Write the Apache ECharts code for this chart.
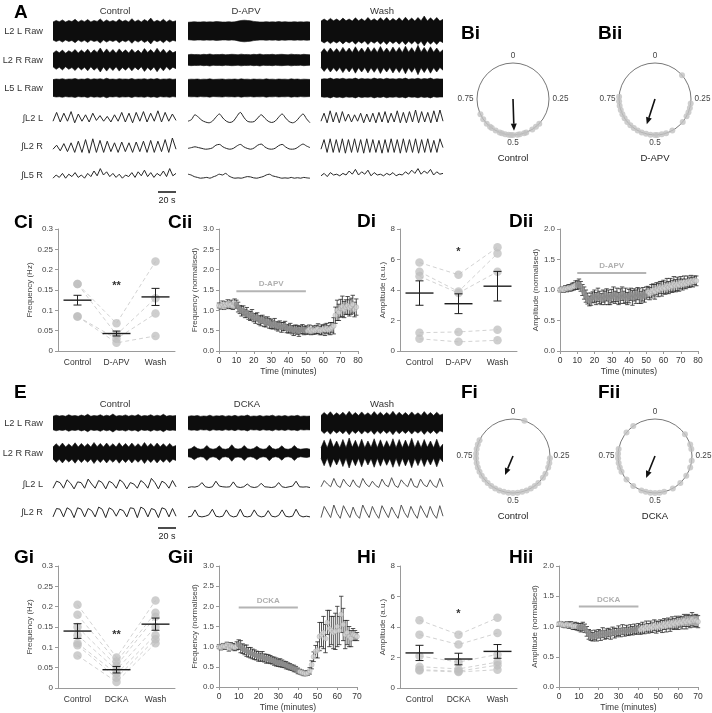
<!DOCTYPE html>
<html><head><meta charset="utf-8">
<script src="https://cdn.jsdelivr.net/npm/echarts@6/dist/echarts.min.js"></script>
<style>html,body{margin:0;padding:0;background:#fff}#c{width:712px;height:713px}</style>
</head><body><div id="c"></div><script>
// ---------------- DATA ----------------
// Panel A raw envelopes (half-amplitude, relative units)
const aL2LRawCtrl=[0.6,0.7,0.62,0.74,0.6,0.7,0.63,0.78,0.6,0.72,0.62,0.76,0.6,0.7,0.64,0.8,0.6,0.74,0.62,0.7,0.6,0.78,0.63,0.72,0.6,0.82,0.62,0.74,0.6,0.76,0.64,0.86,0.6,0.72,0.62,0.78,0.6,0.74,0.62,0.68];
const aL2LRawDapv=[0.58,0.6,0.62,0.6,0.6,0.62,0.6,0.61,0.6,0.63,0.62,0.6,0.6,0.62,0.6,0.61,0.66,0.7,0.72,0.7,0.68,0.64,0.62,0.6,0.6,0.62,0.6,0.61,0.6,0.63,0.6,0.62,0.6,0.6,0.62,0.6,0.61,0.6,0.62,0.6];
const aL2LRawWash=[0.66,0.8,0.66,0.84,0.68,0.8,0.66,0.86,0.68,0.8,0.66,0.88,0.68,0.82,0.66,0.9,0.68,0.82,0.66,0.88,0.68,0.9,0.66,0.84,0.68,0.88,0.66,0.92,0.68,0.86,0.66,0.9,0.68,1.0,0.66,0.88,0.68,0.9,0.66,0.78];
const aL2RRawCtrl=[0.45,0.62,0.48,0.66,0.45,0.62,0.5,0.7,0.46,0.66,0.48,0.72,0.45,0.68,0.5,0.8,0.46,0.74,0.48,0.7,0.45,0.74,0.5,0.68,0.46,0.72,0.48,0.66,0.45,0.76,0.5,0.7,0.46,0.78,0.48,0.72,0.45,0.66,0.48,0.58];
const aL2RRawDapv=[0.35,0.38,0.36,0.37,0.35,0.38,0.36,0.4,0.35,0.37,0.36,0.38,0.35,0.36,0.38,0.37,0.35,0.39,0.36,0.37,0.35,0.38,0.36,0.4,0.35,0.37,0.36,0.38,0.35,0.37,0.38,0.36,0.35,0.39,0.36,0.37,0.35,0.38,0.36,0.35];
const aL2RRawWash=[0.5,0.76,0.5,0.8,0.52,0.76,0.5,0.84,0.52,0.8,0.5,0.88,0.52,0.8,0.5,0.86,0.52,0.82,0.5,0.9,0.52,0.8,0.5,0.86,0.52,0.84,0.5,0.92,0.52,0.82,0.5,0.98,0.52,0.84,0.5,0.88,0.52,0.8,0.5,0.68];
const aL5LRawCtrl=[0.56,0.6,0.58,0.62,0.57,0.6,0.59,0.63,0.57,0.6,0.58,0.64,0.57,0.61,0.59,0.62,0.57,0.65,0.58,0.6,0.57,0.62,0.59,0.6,0.58,0.63,0.57,0.6,0.59,0.62,0.57,0.61,0.58,0.63,0.57,0.6,0.59,0.62,0.57,0.6];
const aL5LRawDapv=[0.57,0.59,0.58,0.6,0.57,0.59,0.58,0.61,0.57,0.58,0.59,0.6,0.57,0.59,0.58,0.6,0.57,0.61,0.58,0.59,0.57,0.6,0.58,0.59,0.57,0.61,0.58,0.59,0.57,0.6,0.58,0.59,0.57,0.61,0.58,0.6,0.57,0.59,0.58,0.57];
const aL5LRawWash=[0.58,0.62,0.6,0.66,0.58,0.63,0.6,0.65,0.59,0.62,0.6,0.66,0.58,0.64,0.6,0.62,0.59,0.66,0.6,0.63,0.58,0.65,0.6,0.62,0.59,0.64,0.6,0.66,0.58,0.62,0.6,0.65,0.59,0.63,0.6,0.66,0.58,0.62,0.6,0.6];
// Panel A integrated traces (0..1)
const aIntL2LCtrl=[0.3,0.85,0.25,0.8,0.3,0.9,0.2,0.75,0.3,0.7,0.25,0.8,0.35,0.65,0.3,0.6,0.25,0.7,0.3,0.85,0.25,0.8,0.2,0.85,0.3,0.9,0.25,0.8,0.3,0.95,0.25,0.85,0.3,0.75,0.35];
const aIntL2RCtrl=[0.3,0.55,0.2,0.65,0.15,0.7,0.1,0.8,0.1,0.9,0.05,0.95,0.1,0.85,0.1,0.8,0.15,0.7,0.1,0.75,0.15,0.7,0.1,0.75,0.15,0.8,0.1,0.85,0.1,0.8,0.15,0.9,0.1,1.0,0.3];
const aIntL5RCtrl=[0.3,0.5,0.35,0.6,0.3,0.55,0.4,0.65,0.35,0.5,0.3,0.6,0.4,0.75,0.45,0.9,0.5,0.7,0.4,0.6,0.35,0.55,0.3,0.5,0.4,0.65,0.35,0.7,0.45,0.8,0.4,0.65,0.35,0.6,0.45,0.75,0.4,0.9,0.45,0.6];
const aIntL2LDapv=[0.3,0.4,0.7,0.55,0.35,0.25,0.2,0.3,0.55,0.75,0.5,0.3,0.22,0.3,0.6,0.85,0.55,0.3,0.25,0.28,0.5,0.7,0.5,0.3,0.22,0.3,0.55,0.75,0.5,0.28,0.2,0.3,0.55,0.75,0.45,0.2];
const aIntL2RDapv=[0.35,0.4,0.45,0.4,0.35,0.3,0.32,0.38,0.55,0.6,0.45,0.35,0.3,0.35,0.5,0.6,0.45,0.35,0.3,0.38,0.55,0.62,0.45,0.33,0.3,0.36,0.52,0.6,0.44,0.32,0.3,0.35,0.5,0.62,0.5,0.4];
const aIntL5RDapv=[0.55,0.5,0.4,0.35,0.3,0.32,0.35,0.3,0.38,0.45,0.55,0.5,0.6,0.45,0.35,0.3,0.32,0.3,0.35,0.4,0.38,0.32,0.3,0.35,0.4,0.5,0.55,0.45,0.4,0.35,0.3,0.32,0.3,0.35,0.3,0.33,0.3,0.35,0.32,0.3];
const aIntL2LWash=[0.3,0.8,0.2,0.95,0.25,0.85,0.2,0.9,0.3,0.75,0.25,0.7,0.3,0.8,0.2,0.75,0.25,0.8,0.2,0.85,0.25,0.9,0.2,0.8,0.25,0.95,0.2,0.85,0.2,0.9,0.25,1.0,0.2,0.9,0.25,0.85,0.2,0.95,0.25,1.0,0.3];
const aIntL2RWash=[0.3,0.9,0.1,0.95,0.1,0.9,0.1,0.95,0.05,0.9,0.1,0.95,0.1,0.9,0.05,0.95,0.1,0.9,0.1,0.85,0.05,0.9,0.1,0.95,0.1,0.9,0.05,0.95,0.1,0.9,0.1,0.95,0.05,0.9,0.1,0.95,0.1,0.85,0.1,0.95,0.4];
const aIntL5RWash=[0.45,0.6,0.4,0.65,0.5,0.55,0.45,0.6,0.5,0.75,0.55,0.85,0.5,0.7,0.55,0.8,0.45,0.65,0.5,0.55,0.45,0.6,0.5,0.65,0.45,0.55,0.5,0.7,0.55,0.8,0.6,0.9,0.55,0.75,0.6,0.85,0.5,0.7,0.55,0.6];
// Panel E
const eL2LRawCtrl=[0.45,0.52,0.46,0.5,0.45,0.55,0.47,0.5,0.45,0.53,0.46,0.58,0.45,0.5,0.47,0.55,0.45,0.52,0.46,0.6,0.45,0.5,0.47,0.54,0.45,0.52,0.46,0.56,0.45,0.5,0.47,0.55,0.45,0.52,0.46,0.58,0.45,0.5,0.47,0.5];
const eL2LRawDcka=[0.44,0.48,0.46,0.5,0.44,0.47,0.45,0.52,0.44,0.48,0.46,0.5,0.44,0.49,0.45,0.51,0.44,0.48,0.46,0.53,0.44,0.47,0.45,0.5,0.44,0.48,0.46,0.52,0.44,0.49,0.45,0.5,0.44,0.48,0.46,0.51,0.44,0.47,0.45,0.46];
const eL2LRawWash=[0.5,0.7,0.52,0.75,0.5,0.68,0.52,0.72,0.5,0.78,0.52,0.7,0.5,0.74,0.52,0.68,0.5,0.76,0.52,0.72,0.5,0.7,0.52,0.78,0.5,0.72,0.52,0.7,0.5,0.74,0.52,0.68,0.5,0.76,0.52,0.7,0.5,0.72,0.52,0.6];
const eL2RRawCtrl=[0.4,0.62,0.42,0.66,0.4,0.6,0.42,0.68,0.4,0.64,0.42,0.62,0.4,0.7,0.42,0.64,0.4,0.66,0.42,0.62,0.4,0.68,0.42,0.64,0.4,0.66,0.42,0.62,0.4,0.7,0.42,0.64,0.4,0.66,0.42,0.62,0.4,0.64,0.42,0.5];
const eL2RRawDcka=[0.25,0.3,0.45,0.3,0.25,0.28,0.5,0.3,0.25,0.3,0.48,0.28,0.25,0.3,0.55,0.3,0.26,0.3,0.5,0.28,0.25,0.3,0.45,0.3,0.25,0.28,0.52,0.3,0.25,0.3,0.48,0.28,0.25,0.3,0.5,0.3,0.25,0.28,0.3,0.25];
const eL2RRawWash=[0.35,0.85,0.35,0.95,0.38,0.8,0.35,0.9,0.35,1.0,0.38,0.85,0.35,0.92,0.35,0.8,0.38,0.95,0.35,0.88,0.35,0.82,0.38,0.95,0.35,0.9,0.35,0.86,0.38,0.98,0.35,0.84,0.35,0.9,0.38,0.8,0.35,0.92,0.35,0.6];
const eIntL2LCtrl=[0.2,0.7,0.6,0.2,0.8,0.55,0.15,0.65,0.6,0.2,0.85,0.5,0.2,0.75,0.6,0.15,0.7,0.55,0.2,0.8,0.6,0.15,0.6,0.5,0.2,0.75,0.55,0.2,0.9,0.6,0.15,0.7,0.55,0.2,0.75,0.3];
const eIntL2RCtrl=[0.15,0.75,0.7,0.15,0.8,0.65,0.1,0.8,0.7,0.15,0.75,0.6,0.15,0.85,0.7,0.1,0.8,0.65,0.2,0.7,0.6,0.15,0.8,0.75,0.1,0.85,0.7,0.15,0.75,0.65,0.1,0.8,0.7,0.15,0.75,0.2];
const eIntL2LDcka=[0.25,0.3,0.28,0.35,0.6,0.3,0.25,0.3,0.7,0.35,0.3,0.28,0.3,0.65,0.3,0.25,0.3,0.5,0.3,0.25,0.3,0.55,0.3,0.28,0.25,0.3,0.6,0.3,0.25,0.3,0.35,0.7,0.3,0.28,0.3,0.25];
const eIntL2RDcka=[0.15,0.2,0.65,0.2,0.15,0.2,0.3,0.7,0.2,0.15,0.2,0.65,0.25,0.15,0.2,0.7,0.2,0.15,0.2,0.65,0.25,0.15,0.2,0.6,0.2,0.15,0.25,0.65,0.2,0.15,0.2,0.7,0.25,0.15,0.2,0.15];
const eIntL2LWash=[0.3,0.75,0.5,0.3,0.9,0.4,0.25,0.85,0.5,0.3,0.8,0.4,0.25,0.9,0.5,0.3,0.7,0.4,0.25,0.85,0.45,0.3,0.95,0.4,0.25,0.8,0.5,0.3,0.9,0.35,0.25,0.85,0.45,0.3,0.8,0.4,0.25,0.9,0.3];
const eIntL2RWash=[0.1,0.9,0.5,0.1,1.0,0.4,0.05,0.95,0.5,0.1,0.85,0.3,0.05,1.0,0.5,0.1,0.9,0.4,0.05,0.95,0.5,0.1,0.85,0.4,0.05,1.0,0.45,0.1,0.9,0.4,0.05,0.95,0.5,0.1,0.9,0.35,0.05,0.95,0.2];

// Circular phase data
const biPhases=[0.37,0.39,0.41,0.44,0.45,0.47,0.48,0.5,0.51,0.52,0.535,0.55,0.56,0.58,0.6,0.61,0.63,0.655,0.68];
const biiPhases=[0.135,0.27,0.29,0.31,0.33,0.36,0.42,0.45,0.47,0.49,0.5,0.52,0.54,0.56,0.58,0.6,0.62,0.64,0.66,0.68,0.7,0.72,0.74,0.76];
const fiPhases=[0.05,0.26,0.28,0.3,0.33,0.35,0.38,0.4,0.42,0.44,0.46,0.48,0.5,0.52,0.54,0.56,0.58,0.6,0.62,0.64,0.66,0.68,0.7,0.72,0.74,0.76,0.78,0.8,0.82];
const fiiPhases=[0.15,0.2,0.22,0.27,0.3,0.34,0.38,0.42,0.46,0.48,0.5,0.52,0.54,0.56,0.6,0.64,0.68,0.7,0.72,0.74,0.76,0.78,0.86,0.9];
const biArrow=[0.495,0.88], biiArrow=[0.55,0.74], fiArrow=[0.563,0.56], fiiArrow=[0.561,0.64]; // [phase, length]
const circleTicks=[0,0.25,0.5,0.75];

// Paired data
const cCats=['Control','D-APV','Wash'];
const gCats=['Control','DCKA','Wash'];
const ciSubjects=[[0.165,0.068,0.22],[0.165,0.04,0.13],[0.085,0.03,0.092],[0.085,0.02,0.037]];
const ciMean=[0.125,0.043,0.133], ciSem=[0.012,0.006,0.021];
const diSubjects=[[5.8,5.0,6.8],[5.2,3.9,6.4],[4.9,3.8,5.2],[1.2,1.25,1.4],[0.8,0.6,0.7]];
const diMean=[3.8,3.1,4.25], diSem=[0.8,0.65,0.97];
const giSubjects=[[0.205,0.075,0.215],[0.18,0.065,0.185],[0.15,0.055,0.175],[0.13,0.045,0.15],[0.11,0.035,0.13],[0.105,0.025,0.12],[0.08,0.015,0.11]];
const giMean=[0.14,0.045,0.157], giSem=[0.018,0.008,0.015];
const hiSubjects=[[4.45,3.5,4.6],[3.5,2.85,3.6],[2.1,1.7,2.2],[1.4,1.25,1.7],[1.2,1.1,1.5],[1.15,1.05,1.2]];
const hiMean=[2.3,1.9,2.4], hiSem=[0.5,0.38,0.45];

// Time courses (one value per minute from 0)
const ciiValues=[1.12,1.10,1.15,1.08,1.13,1.17,1.12,1.15,1.10,1.18,1.15,1.08,1.02,0.98,1.0,0.92,0.95,0.88,0.86,0.9,0.82,0.8,0.84,0.76,0.74,0.78,0.72,0.7,0.74,0.68,0.66,0.64,0.68,0.62,0.6,0.64,0.58,0.6,0.62,0.55,0.54,0.57,0.52,0.5,0.54,0.52,0.48,0.52,0.54,0.5,0.52,0.5,0.54,0.48,0.52,0.5,0.53,0.55,0.5,0.52,0.54,0.52,0.56,0.52,0.55,0.58,0.62,0.88,1.0,0.95,1.05,1.1,1.02,1.08,1.12,1.06,1.1,1.15,1.02,1.08];
const ciiErr=[0.06,0.07,0.08,0.06,0.08,0.09,0.08,0.1,0.08,0.1,0.1,0.12,0.1,0.12,0.11,0.1,0.12,0.1,0.11,0.12,0.1,0.12,0.1,0.11,0.12,0.1,0.12,0.11,0.1,0.12,0.11,0.1,0.12,0.1,0.11,0.1,0.12,0.1,0.11,0.1,0.1,0.11,0.1,0.12,0.1,0.11,0.12,0.1,0.11,0.1,0.1,0.09,0.1,0.08,0.1,0.09,0.1,0.12,0.1,0.12,0.1,0.14,0.12,0.1,0.15,0.12,0.2,0.2,0.25,0.2,0.22,0.25,0.2,0.18,0.22,0.2,0.2,0.22,0.18,0.2];
const diiValues=[1.0,1.02,1.0,1.03,1.02,1.04,1.03,1.05,1.06,1.08,1.08,1.1,1.06,1.0,0.95,0.9,0.86,0.82,0.85,0.88,0.9,0.86,0.92,0.88,0.85,0.9,0.87,0.92,0.88,0.86,0.9,0.93,0.88,0.92,0.86,0.9,0.94,0.88,0.91,0.86,0.9,0.93,0.87,0.92,0.89,0.94,0.9,0.88,0.93,0.9,0.95,0.97,0.94,0.98,1.0,0.97,1.02,1.0,1.04,1.02,1.05,1.03,1.07,1.04,1.08,1.06,1.1,1.07,1.1,1.08,1.12,1.09,1.13,1.1,1.14,1.12,1.15,1.13,1.16,1.15];
const diiErr=[0.03,0.03,0.04,0.04,0.05,0.05,0.05,0.06,0.06,0.07,0.07,0.08,0.08,0.09,0.1,0.1,0.09,0.08,0.1,0.09,0.1,0.1,0.11,0.1,0.09,0.1,0.11,0.1,0.12,0.1,0.11,0.12,0.1,0.11,0.1,0.12,0.11,0.1,0.12,0.1,0.11,0.1,0.12,0.1,0.11,0.1,0.12,0.1,0.11,0.1,0.1,0.09,0.1,0.11,0.1,0.12,0.1,0.11,0.1,0.12,0.11,0.1,0.12,0.1,0.11,0.1,0.12,0.1,0.11,0.1,0.1,0.09,0.1,0.08,0.09,0.08,0.09,0.08,0.07,0.08];
const giiValues=[1.0,0.98,1.02,1.0,1.05,0.97,1.03,1.0,0.98,1.02,1.05,1.0,0.95,0.92,0.9,0.86,0.85,0.82,0.8,0.78,0.76,0.74,0.76,0.72,0.7,0.7,0.68,0.66,0.64,0.62,0.6,0.6,0.58,0.56,0.54,0.52,0.5,0.48,0.46,0.44,0.4,0.38,0.36,0.34,0.33,0.35,0.4,0.55,0.75,0.88,0.92,1.25,1.3,1.35,1.2,1.6,1.45,1.4,1.35,1.38,1.5,1.4,1.8,1.55,1.3,1.35,1.25,1.2,1.3,1.28,1.25];
const giiErr=[0.05,0.06,0.06,0.07,0.06,0.08,0.07,0.08,0.08,0.1,0.12,0.15,0.12,0.12,0.14,0.12,0.13,0.12,0.12,0.11,0.12,0.1,0.12,0.1,0.11,0.1,0.1,0.09,0.1,0.1,0.09,0.1,0.09,0.08,0.09,0.08,0.08,0.07,0.08,0.07,0.07,0.06,0.06,0.06,0.05,0.06,0.08,0.1,0.12,0.15,0.2,0.35,0.3,0.4,0.35,0.3,0.45,0.35,0.4,0.45,0.5,0.35,0.45,0.4,0.35,0.3,0.25,0.2,0.15,0.12,0.1];
const hiiValues=[1.04,1.05,1.03,1.02,1.04,1.02,1.03,1.0,1.01,1.0,0.99,0.98,1.0,0.97,0.92,0.87,0.85,0.83,0.86,0.84,0.88,0.85,0.9,0.86,0.88,0.9,0.87,0.92,0.89,0.9,0.93,0.9,0.95,0.91,0.94,0.92,0.95,0.93,0.96,0.94,0.97,0.95,0.98,0.96,1.0,0.97,1.0,0.98,1.02,0.99,1.0,1.02,1.0,1.04,1.01,1.05,1.02,1.06,1.04,1.07,1.05,1.08,1.06,1.1,1.07,1.1,1.08,1.12,1.09,1.1,1.08];
const hiiErr=[0.03,0.03,0.04,0.04,0.04,0.05,0.05,0.05,0.06,0.06,0.06,0.07,0.07,0.07,0.08,0.08,0.08,0.07,0.08,0.08,0.07,0.08,0.08,0.07,0.08,0.07,0.08,0.07,0.08,0.07,0.08,0.07,0.08,0.07,0.08,0.07,0.08,0.07,0.08,0.07,0.08,0.08,0.09,0.08,0.09,0.08,0.09,0.08,0.09,0.1,0.08,0.09,0.1,0.09,0.1,0.09,0.1,0.1,0.09,0.1,0.1,0.09,0.1,0.1,0.11,0.1,0.1,0.11,0.1,0.1,0.1];
const dapvPeriod=[10,50], dckaPeriod=[10,40];

// ---------------- BUILD ----------------
const FONT='"Liberation Sans", Arial, sans-serif';
const grids=[],xAxes=[],yAxes=[],series=[],polars=[],angleAxes=[],radiusAxes=[],graphics=[];
function addGrid(g,xa,ya){grids.push(g);const i=grids.length-1;xAxes.push(Object.assign({gridIndex:i},xa));yAxes.push(Object.assign({gridIndex:i},ya));return i;}
function hidden(min,max){return {type:'value',min,max,show:false,splitLine:{show:false}};}
function rawTrace(left,width,cy,half,amps){
  const gi=addGrid({left,top:cy-half,width,height:2*half},hidden(0,amps.length-1),hidden(-1,1));
  [1,-1].forEach(sg=>series.push({type:'line',xAxisIndex:gi,yAxisIndex:gi,silent:true,symbol:'none',
    data:amps.map((a,i)=>[i,sg*a]),lineStyle:{width:0.6,color:'#0d0d0d'},areaStyle:{color:'#0d0d0d',opacity:1}}));
}
function intTrace(left,width,cy,half,vals,color,smooth){
  const gi=addGrid({left,top:cy-half,width,height:2*half},hidden(0,vals.length-1),hidden(0,1));
  series.push({type:'line',xAxisIndex:gi,yAxisIndex:gi,silent:true,symbol:'none',smooth:smooth||false,
    data:vals.map((v,i)=>[i,v]),lineStyle:{width:1,color:color||'#222'}});
}
const axisGray='#9a9a9a';
function yAxisCfg(max,interval,fmt,name,gap){
  return {type:'value',min:0,max,interval,splitLine:{show:false},
    axisLine:{show:true,lineStyle:{color:axisGray,width:1}},axisTick:{show:true,length:3,lineStyle:{color:axisGray}},
    axisLabel:{formatter:fmt,color:'#444',fontSize:8,margin:5,fontFamily:FONT},
    name,nameLocation:'middle',nameGap:gap,nameTextStyle:{fontSize:8,color:'#444',fontFamily:FONT}};
}
function meanRender(params,api){
  const i=api.value(0),m=api.value(1),s=api.value(2);
  const c=api.coord([i,m]),t=api.coord([i,m+s]),b=api.coord([i,m-s]);
  const st={stroke:'#1e1e1e',lineWidth:1};
  return {type:'group',children:[
    {type:'line',shape:{x1:c[0]-14,y1:c[1],x2:c[0]+14,y2:c[1]},style:{stroke:'#1e1e1e',lineWidth:1.4}},
    {type:'line',shape:{x1:t[0],y1:t[1],x2:b[0],y2:b[1]},style:st},
    {type:'line',shape:{x1:t[0]-4,y1:t[1],x2:t[0]+4,y2:t[1]},style:st},
    {type:'line',shape:{x1:b[0]-4,y1:b[1],x2:b[0]+4,y2:b[1]},style:st}]};
}
function textRender(txt,dy,style){
  return function(params,api){const p=api.coord([api.value(0),api.value(1)]);
    return {type:'text',x:p[0],y:p[1]+(dy||0),style:Object.assign({text:txt,textAlign:'center',textVerticalAlign:'middle',fill:'#333',font:'bold 10px '+FONT},style||{})};};
}
function catChart(left,top,cats,ymax,yint,fmt,yname,gap,subjects,mean,sem,sig,sigY){
  const gi=addGrid({left,top,width:117,height:122},
    {type:'category',data:cats,axisLine:{lineStyle:{color:axisGray}},axisTick:{show:false},
     axisLabel:{color:'#333',fontSize:8.5,margin:7,fontFamily:FONT}},
    yAxisCfg(ymax,yint,fmt,yname,gap));
  subjects.forEach(s=>series.push({type:'line',xAxisIndex:gi,yAxisIndex:gi,silent:true,symbol:'none',data:s,
    lineStyle:{type:[4,3],width:0.9,color:'#cdcdcd'},z:2}));
  series.push({type:'scatter',xAxisIndex:gi,yAxisIndex:gi,silent:true,symbolSize:8.5,
    data:subjects.flatMap(s=>s.map((v,i)=>[i,v])),itemStyle:{color:'#bdbdbd',opacity:0.75},z:3});
  series.push({type:'custom',xAxisIndex:gi,yAxisIndex:gi,silent:true,renderItem:meanRender,
    data:mean.map((m,i)=>[i,m,sem[i]]),z:5});
  series.push({type:'custom',xAxisIndex:gi,yAxisIndex:gi,silent:true,renderItem:textRender(sig,0,{font:'bold 11px '+FONT}),data:[[1,sigY]],z:5});
}
function errRender(params,api){
  const x=api.value(0),y=api.value(1),e=api.value(2);
  const t=api.coord([x,y+e]),b=api.coord([x,y-e]);const w=2.2;const st={stroke:'#2a2a2a',lineWidth:0.8};
  return {type:'group',children:[
    {type:'line',shape:{x1:t[0],y1:t[1],x2:b[0],y2:b[1]},style:st},
    {type:'line',shape:{x1:t[0]-w,y1:t[1],x2:t[0]+w,y2:t[1]},style:st},
    {type:'line',shape:{x1:b[0]-w,y1:b[1],x2:b[0]+w,y2:b[1]},style:st}]};
}
function timeChart(left,top,width,xmax,ymax,yint,yname,gap,vals,errs,period,drugY,drugName){
  const gi=addGrid({left,top,width,height:122},
    {type:'value',min:0,max:xmax,interval:10,splitLine:{show:false},
     axisLine:{lineStyle:{color:axisGray}},axisTick:{show:true,length:3,lineStyle:{color:axisGray}},
     axisLabel:{color:'#333',fontSize:8.5,margin:5,fontFamily:FONT},
     name:'Time (minutes)',nameLocation:'middle',nameGap:16,nameTextStyle:{fontSize:8.5,color:'#333',fontFamily:FONT}},
    yAxisCfg(ymax,yint,v=>v.toFixed(1),yname,gap));
  series.push({type:'custom',xAxisIndex:gi,yAxisIndex:gi,silent:true,renderItem:errRender,data:vals.map((v,i)=>[i,v,errs[i]]),z:3});
  series.push({type:'scatter',xAxisIndex:gi,yAxisIndex:gi,silent:true,symbolSize:5,
    data:vals.map((v,i)=>[i,v]),itemStyle:{color:p=>(p.value[0]>=period[0]&&p.value[0]<=period[1])?'#8f8f8f':'#d2d2d2',borderColor:'#777',borderWidth:0.3},z:4});
  series.push({type:'line',xAxisIndex:gi,yAxisIndex:gi,silent:true,symbol:'none',data:[[period[0],drugY],[period[1],drugY]],
    lineStyle:{color:'#b4b4b4',width:2},z:2});
  series.push({type:'custom',xAxisIndex:gi,yAxisIndex:gi,silent:true,renderItem:textRender(drugName,-7,{fill:'#b0b0b0',font:'bold 8px '+FONT}),
    data:[[(period[0]+period[1])/2,drugY]],z:2});
}
function arrowRender(params,api){
  const len=api.value(0),ph=api.value(1);
  const s=api.coord([0,ph]),e=api.coord([len,ph]);
  const dx=e[0]-s[0],dy=e[1]-s[1],L=Math.hypot(dx,dy),ux=dx/L,uy=dy/L,hl=7,hw=3;
  const bx=e[0]-ux*hl,by=e[1]-uy*hl;
  return {type:'group',children:[
    {type:'line',shape:{x1:s[0],y1:s[1],x2:bx,y2:by},style:{stroke:'#111',lineWidth:1.6}},
    {type:'polygon',shape:{points:[[e[0],e[1]],[bx-uy*hw,by+ux*hw],[bx+uy*hw,by-ux*hw]]},style:{fill:'#111'}}]};
}
function circle(cx,cy,r,phases,arrow,caption){
  polars.push({center:[cx,cy],radius:r});const pi=polars.length-1;
  angleAxes.push({polarIndex:pi,type:'value',min:0,max:1,interval:0.25,startAngle:90,clockwise:true,
    axisLine:{lineStyle:{color:'#555',width:0.8}},axisTick:{show:false},splitLine:{show:false},
    axisLabel:{formatter:v=>circleTicks.indexOf(v)>=0?String(v):'',color:'#444',fontSize:8.2,margin:3.5,fontFamily:FONT}});
  radiusAxes.push({polarIndex:pi,type:'value',min:0,max:1,axisLine:{show:false},axisTick:{show:false},axisLabel:{show:false},splitLine:{show:false}});
  series.push({type:'scatter',coordinateSystem:'polar',polarIndex:pi,silent:true,symbolSize:6,
    data:phases.map(p=>[1,p]),itemStyle:{color:'#c2c2c2'},z:3});
  series.push({type:'custom',coordinateSystem:'polar',polarIndex:pi,silent:true,renderItem:arrowRender,data:[[arrow[1],arrow[0]]],z:5});
  txt(caption,cx,cy+r+23,'center',9.5);
}
function txt(t,x,y,align,size,bold,color){
  graphics.push({type:'text',x,y,silent:true,style:{text:t,textAlign:align||'left',textVerticalAlign:'middle',
    font:(bold?'bold ':'')+size+'px '+FONT,fill:color||'#222'}});
}
function scaleBar(x1,x2,y){
  graphics.push({type:'line',silent:true,shape:{x1,y1:y,x2,y2:y},style:{stroke:'#111',lineWidth:1.5}});
  txt('20 s',(x1+x2)/2,y+9,'center',9);
}

// Panel A
const colL=[53,188,321],colW=[123,122,122];
const aRowLabels=['L2 L Raw','L2 R Raw','L5 L Raw','∫L2 L','∫L2 R','∫L5 R'];
const aRowY=[31,60,88,118,146,175];
const aRaw=[[aL2LRawCtrl,aL2LRawDapv,aL2LRawWash],[aL2RRawCtrl,aL2RRawDapv,aL2RRawWash],[aL5LRawCtrl,aL5LRawDapv,aL5LRawWash]];
const aInt=[[aIntL2LCtrl,aIntL2LDapv,aIntL2LWash],[aIntL2RCtrl,aIntL2RDapv,aIntL2RWash],[aIntL5RCtrl,aIntL5RDapv,aIntL5RWash]];
aRaw.forEach((row,r)=>row.forEach((d,c)=>rawTrace(colL[c],colW[c],aRowY[r],15,d)));
aInt.forEach((row,r)=>row.forEach((d,c)=>intTrace(colL[c],colW[c],aRowY[r+3],8,d,'#262626',c===1?0.3:false)));
aRowLabels.forEach((l,i)=>txt(l,43,aRowY[i],'right',9.2,false,'#333'));
txt('A',14,13,'left',19,true,'#000');
['Control','D-APV','Wash'].forEach((h,i)=>txt(h,[115,246,382][i],11,'center',9.5,false,'#333'));
scaleBar(158,176,192);

// Panel E
const eRowLabels=['L2 L Raw','L2 R Raw','∫L2 L','∫L2 R'];
const eRowY=[423,453,484,512];
const eRaw=[[eL2LRawCtrl,eL2LRawDcka,eL2LRawWash],[eL2RRawCtrl,eL2RRawDcka,eL2RRawWash]];
const eInt=[[eIntL2LCtrl,eIntL2LDcka,eIntL2LWash],[eIntL2RCtrl,eIntL2RDcka,eIntL2RWash]];
eRaw.forEach((row,r)=>row.forEach((d,c)=>rawTrace(colL[c],colW[c],eRowY[r],15,d)));
eInt.forEach((row,r)=>row.forEach((d,c)=>intTrace(colL[c],colW[c],eRowY[r+2],7,d,c===2?'#555':'#262626',false)));
eRowLabels.forEach((l,i)=>txt(l,43,eRowY[i],'right',9.2,false,'#333'));
txt('E',14,393,'left',19,true,'#000');
['Control','DCKA','Wash'].forEach((h,i)=>txt(h,[115,247,382][i],404,'center',9.5,false,'#333'));
scaleBar(158,176,528);

// Circles
txt('Bi',461,34,'left',19,true,'#000');txt('Bii',598,34,'left',19,true,'#000');
circle(513,99,36,biPhases,biArrow,'Control');
circle(655,99,36,biiPhases,biiArrow,'D-APV');
txt('Fi',461,393,'left',19,true,'#000');txt('Fii',598,393,'left',19,true,'#000');
circle(513,456,37,fiPhases,fiArrow,'Control');
circle(655,456,37,fiiPhases,fiiArrow,'DCKA');

// Stats charts
txt('Ci',14,223,'left',19,true,'#000');txt('Cii',168,223,'left',19,true,'#000');
txt('Di',357,222,'left',19,true,'#000');txt('Dii',509,222,'left',19,true,'#000');
txt('Gi',14,558,'left',19,true,'#000');txt('Gii',168,558,'left',19,true,'#000');
txt('Hi',357,558,'left',19,true,'#000');txt('Hii',509,558,'left',19,true,'#000');
const f2=v=>String(+v.toFixed(2));
catChart(58,229,cCats,0.3,0.05,f2,'Frequency (Hz)',24,ciSubjects,ciMean,ciSem,'**',0.16);
timeChart(219,229,139,80,3,0.5,'Frequency (normalised)',19,ciiValues,ciiErr,dapvPeriod,1.47,'D-APV');
catChart(400,229,cCats,8,2,v=>String(v),'Amplitude (a.u.)',13,diSubjects,diMean,diSem,'*',6.5);
timeChart(560,229,138,80,2,0.5,'Amplitude (normalised)',19,diiValues,diiErr,dapvPeriod,1.28,'D-APV');
catChart(58,566,gCats,0.3,0.05,f2,'Frequency (Hz)',24,giSubjects,giMean,giSem,'**',0.13);
timeChart(219,566,138,70,3,0.5,'Frequency (normalised)',19,giiValues,giiErr,dckaPeriod,1.97,'DCKA');
catChart(400,566,gCats,8,2,v=>String(v),'Amplitude (a.u.)',13,hiSubjects,hiMean,hiSem,'*',4.85);
timeChart(559,566,139,70,2,0.5,'Amplitude (normalised)',19,hiiValues,hiiErr,dckaPeriod,1.33,'DCKA');

const chart=echarts.init(document.getElementById('c'),null,{renderer:'canvas'});
chart.setOption({animation:false,backgroundColor:'#fff',textStyle:{fontFamily:FONT},
  grid:grids,xAxis:xAxes,yAxis:yAxes,polar:polars,angleAxis:angleAxes,radiusAxis:radiusAxes,series,graphic:graphics});
</script></body></html>
